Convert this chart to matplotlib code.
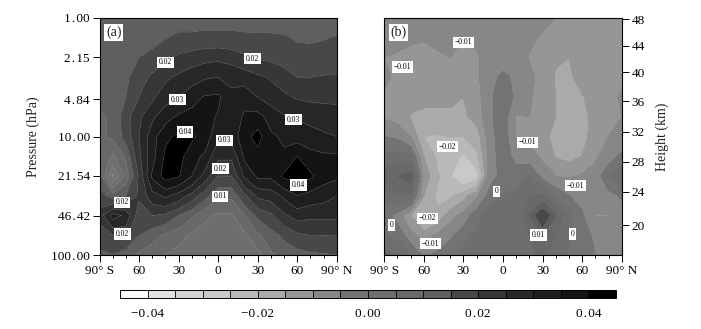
import matplotlib
matplotlib.use("Agg")
import matplotlib.pyplot as plt
from matplotlib.colors import ListedColormap
import numpy as np

plt.rcParams["font.family"] = ["Liberation Serif", "DejaVu Serif"]

lat = np.arange(-90, 91, 10)
# 13 levels, equal steps in log pressure
pres = np.logspace(0, 2, 13)

# values in 0.001 units
vals_a = np.array([
    [10.5, 10.5, 11, 12, 12, 13, 13, 13, 13, 13, 13, 13, 13, 13, 13, 13, 13, 13, 13],
    [10.5, 11, 12, 12.5, 13, 14.8, 16, 16, 16.5, 16.5, 16.5, 16, 15.8, 15.8, 15.5, 14.5, 14.5, 14.8, 15.3],
    [11, 12, 13, 15, 17, 19, 21, 22.5, 23.5, 24, 23, 21, 19.5, 19, 18, 17, 16.5, 16.5, 16],
    [12, 12, 14, 18, 21, 24, 26, 28, 29.5, 30, 29, 28, 26, 24.5, 22.5, 20, 20, 20.5, 21],
    [12, 12, 15, 20, 24, 28, 30, 33, 35.5, 36, 31, 33, 30, 28, 26, 24.5, 24, 24, 24],
    [9, 11, 18, 24, 29, 33, 36, 37, 37, 34.5, 31, 36, 37, 33, 30.5, 29.5, 28.5, 27.5, 27],
    [9, 11, 17, 25, 33, 39, 41, 41, 38, 31, 32, 38, 42, 36, 34, 33, 32, 31, 30],
    [10, 4, 11, 24, 33, 41, 42, 37, 34, 26, 26, 36, 38, 36, 36, 40, 37, 36, 36],
    [13, -6, 7, 21, 36, 42, 40.5, 35, 28, 20, 20, 31, 36, 36, 41, 42, 41, 37, 36],
    [17, 13, 15, 21, 28, 31, 28, 23, 17, 11, 11, 19, 26, 27, 31, 35, 33, 32, 30],
    [22, 32, 29, 17, 20, 19, 15, 11, 6, 4, 4, 10, 16, 19, 24, 27, 26, 26, 26],
    [17, 20, 21, 15, 12, 9, 7, 4, 3, 2, 2, 4, 9, 13, 16, 19, 20, 20, 20],
    [14, 15, 12, 9, 7, 5, 3, 2, 1, 1, 1, 2, 3, 9, 12, 13, 14, 14.5, 15],
]) * 0.001

vals_b = np.array([
    [-9, -8.5, -8, -8, -8, -8, -8, -8, -8, -8, -8, -8, -9.5, -10, -10.5, -11, -11, -11, -11],
    [-9, -9, -9.5, -9.8, -9.3, -9, -9.9, -9.3, -8.5, -8, -8, -9.5, -10.3, -11, -11.5, -11.5, -11, -11, -11],
    [-10, -10.5, -11, -11, -10.5, -10, -11, -10.5, -8.5, -7, -8.5, -10.2, -11.5, -14.5, -15, -12.5, -11.5, -11, -10.8],
    [-9.5, -10.5, -11.5, -12, -12.5, -12.5, -12, -11, -6.5, -4, -6, -9, -11.5, -15.5, -16, -13, -11.5, -10.8, -10.3],
    [-10.5, -11.5, -13, -14, -14, -14.5, -15, -12, -6, -2, -6, -9.5, -11.5, -15, -16.5, -15.5, -12, -10.5, -9.8],
    [-10.5, -12, -15.5, -16, -16, -15.5, -16, -13, -6, -2, -10.5, -10, -12, -15, -17, -17, -13, -11, -10],
    [-5, -6, -10, -20, -20.5, -20, -20, -18, -7, -2, -10.5, -11, -14, -16, -17, -16.5, -13, -10, -8.5],
    [1, 2, 1, -15, -21, -22, -26, -21, -8, -2, -7, -8, -11, -15.5, -16.5, -15, -11, -7, -4],
    [8, 10, 13, -12, -19, -24.5, -31, -28, -7, -3.5, -2, 0.5, -7, -10, -10.5, -9.5, -7, -2, 6],
    [3, 5, 3, -15, -21, -21, -17, -11, -3, 0, 1, 5, 6, -1, -5, -6, -8, -6.5, -4.5],
    [-3, -7, -15, -21, -19, -12, -8, -2, 3, 1.5, 3, 10, 20, 10, 1, -4.5, -10.2, -10.2, -7],
    [1, -2, -8, -13, -9, -6, -2, 1, 1, 0, 2, 5, 10, 5, 0, -3, -6, -6, -5],
    [6, 5, 0, -6, -4, -1, 2, 2, 1, 2, 3, 4, 6, 3, 0, -2, -5, -7, -7],
]) * 0.001

levels = np.arange(-0.045, 0.0451, 0.005)
# gray of each colour bar box
box_gray = [250, 225, 210, 200, 185, 170, 150, 135, 115, 110, 105, 95, 72, 55, 40, 30, 20, 0]
cbar_ticks = [-0.04, -0.02, 0.0, 0.02, 0.04]
cbar_labels = ["\u22120\u200a.\u200a04", "\u22120\u200a.\u200a02", "0\u200a.\u200a00", "0\u200a.\u200a02", "0\u200a.\u200a04"]

lat_ticks = [-90, -60, -30, 0, 30, 60, 90]
lat_labels = ["90\u00b0 S", "60", "30", "0", "30", "60", "90\u00b0 N"]
pres_ticks = [1.0, 2.15, 4.84, 10.0, 21.54, 46.42, 100.0]
pres_labels = ["1\u200a.\u200a00", "2\u200a.\u200a15", "4\u200a.\u200a84", "10\u200a.\u200a00", "21\u200a.\u200a54", "46\u200a.\u200a42", "100\u200a.\u200a00"]
height_km = [48, 44, 40, 36, 32, 28, 24, 20]
height_pres = [1.02, 1.71, 2.87, 5.05, 9.16, 16.4, 29.4, 56.2]

# contour labels: text, lat, pressure
labels_a = [("0.02", -40, 2.37), ("0.02", 26, 2.2), ("0.03", -31, 4.89), ("0.03", 57, 7.2),
            ("0.04", -25, 9.16), ("0.03", 5, 10.8), ("0.02", 2, 18.7), ("0.01", 1.5, 32),
            ("0.04", 61, 25.7), ("0.02", -73, 36), ("0.02", -72.5, 66.5)]
labels_b = [("\u22120.01", -30, 1.6), ("\u22120.01", -76, 2.6), ("\u22120.02", -42, 12.2),
            ("\u22120.01", 18.5, 11.2), ("\u22120.01", 55, 26), ("0", -5, 29),
            ("\u22120.02", -57, 49), ("0", -84.5, 56), ("0.01", 27, 68), ("0", 52.5, 66.5),
            ("\u22120.01", -55, 80)]

W, H = 701, 329
cmap = ListedColormap([(g / 255, g / 255, g / 255) for g in box_gray])


def px_axes(fig, x0, y0, x1, y1):
    return fig.add_axes([x0 / W, 1 - y1 / H, (x1 - x0) / W, (y1 - y0) / H])


def panel(ax, vals, labs, tag, line_color):
    cf = ax.contourf(lat, pres, vals, levels=levels, cmap=cmap)
    ax.contour(lat, pres, vals, levels=levels, colors=line_color, linewidths=0.3, linestyles="--")
    ax.set_yscale("log")
    ax.set_ylim(100, 1)
    ax.set_xlim(-90, 90)
    ax.set_xticks(lat_ticks)
    ax.set_xticklabels(lat_labels, fontsize=9.5)
    ax.set_xticks(np.arange(-90, 91, 10), minor=True)
    ax.tick_params(axis="x", which="major", length=5, width=0.7, pad=2)
    ax.tick_params(axis="x", which="minor", length=2.5, width=0.7)
    ax.yaxis.set_minor_locator(matplotlib.ticker.NullLocator())
    for t, la, p in labs:
        ax.text(la, p, t, fontsize=5.5, ha="center", va="center",
                bbox=dict(facecolor="white", edgecolor="none", pad=1.2))
    ax.text(0.06, 0.94, tag, transform=ax.transAxes, fontsize=10, ha="center", va="center",
            color="#222222", bbox=dict(facecolor="white", edgecolor="none", pad=1.2))
    return cf


fig = plt.figure(figsize=(W / 100, H / 100), dpi=100)

ax1 = px_axes(fig, 99.5, 18, 336.7, 255)
cf = panel(ax1, vals_a, labels_a, "(a)", "#a8a8a8")
ax1.set_yticks(pres_ticks)
ax1.set_yticklabels(pres_labels, fontsize=9.5)
ax1.tick_params(axis="y", which="major", length=5, width=0.7, pad=2)
ax1.set_ylabel("Pressure (hPa)", fontsize=10, labelpad=8, color="#222222")

ax2 = px_axes(fig, 384.3, 18, 621.7, 255)
panel(ax2, vals_b, labels_b, "(b)", "none")
ax2.yaxis.tick_right()
ax2.yaxis.set_label_position("right")
ax2.set_yticks(height_pres)
ax2.set_yticklabels(height_km, fontsize=9.5)
ax2.tick_params(axis="y", which="major", length=5, width=0.7, pad=2)
ax2.set_ylabel("Height (km)", fontsize=10, labelpad=8, color="#222222")

cax = px_axes(fig, 120, 290, 616, 298)
cb = fig.colorbar(cf, cax=cax, orientation="horizontal", ticks=cbar_ticks, drawedges=True)
cb.ax.set_xticklabels(cbar_labels, fontsize=9.5)
cb.ax.tick_params(length=0, pad=7)
cb.outline.set_linewidth(0.7)
cb.dividers.set_linewidth(0.6)

fig.savefig("out.png", dpi=100)
